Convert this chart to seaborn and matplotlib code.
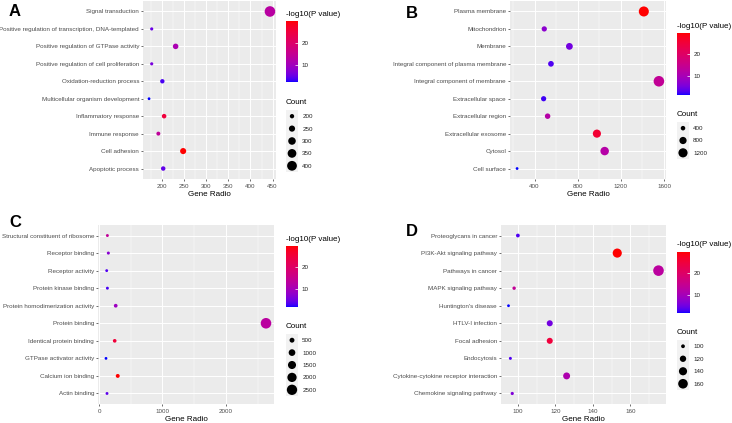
# ---- imports ----
import numpy as np
import pandas as pd
import seaborn as sns
import matplotlib
matplotlib.use("Agg")
import matplotlib.pyplot as plt
from matplotlib.colors import ListedColormap, Normalize
from matplotlib.cm import ScalarMappable
from matplotlib.ticker import MultipleLocator

# ---- data ----
a_terms = ["Signal transduction", "Positive regulation of transcription, DNA-templated",
           "Positive regulation of GTPase activity", "Positive regulation of cell proliferation",
           "Oxidation-reduction process", "Multicellular organism development",
           "Inflammatory response", "Immune response", "Cell adhesion", "Apoptotic process"]
a_count = [444, 177, 231, 177, 201, 171, 205, 192, 248, 203]
a_logp = [13, 5, 11, 6, 3.5, 2.1, 25, 14, 29.8, 4.5]
a_size_ticks = [200, 250, 300, 350, 400]
a_x_ticks = [200, 250, 300, 350, 400, 450]

b_terms = ["Plasma membrane", "Mitochondrion", "Membrane",
           "Integral component of plasma membrane", "Integral component of membrane",
           "Extracellular space", "Extracellular region", "Extracellular exosome",
           "Cytosol", "Cell surface"]
b_count = [1413, 490, 723, 552, 1553, 484, 521, 978, 1050, 238]
b_logp = [29.8, 7, 5, 3, 14, 2.5, 12, 26, 12, 1.4]
b_size_ticks = [400, 800, 1200]
b_x_ticks = [400, 800, 1200, 1600]

c_terms = ["Structural constituent of ribosome", "Receptor binding", "Receptor activity",
           "Protein kinase binding", "Protein homodimerization activity", "Protein binding",
           "Identical protein binding", "GTPase activator activity", "Calcium ion binding",
           "Actin binding"]
c_count = [132, 147, 121, 132, 263, 2632, 247, 110, 295, 126]
c_logp = [14, 7, 3.5, 3, 9, 13, 25, 1.8, 29.5, 4]
c_size_ticks = [500, 1000, 1500, 2000, 2500]
c_x_ticks = [0, 1000, 2000]

d_terms = ["Proteoglycans in cancer", "PI3K-Akt signaling pathway", "Pathways in cancer",
           "MAPK signaling pathway", "Huntington's disease", "HTLV-I infection",
           "Focal adhesion", "Endocytosis", "Cytokine-cytokine receptor interaction",
           "Chemokine signaling pathway"]
d_count = [100, 153, 175, 98, 95, 117, 117, 96, 126, 97]
d_logp = [3, 29.8, 13, 14, 1.4, 5, 25, 3, 11, 6]
d_size_ticks = [100, 120, 140, 160]
d_x_ticks = [100, 120, 140, 160]

cbar_ticks = [10, 20]

W, H = 732, 423
FONT = ["Liberation Sans", "DejaVu Sans"]


# ---- blue -> red gradient in Lab space (like ggplot) ----
M = np.array([[0.4124, 0.3576, 0.1805],
              [0.2126, 0.7152, 0.0722],
              [0.0193, 0.1192, 0.9505]])
WHITE = M @ np.ones(3)


def to_lab(rgb):
    c = np.asarray(rgb, float)
    lin = np.where(c <= 0.04045, c / 12.92, ((c + 0.055) / 1.055) ** 2.4)
    xyz = M @ lin / WHITE
    d = 6 / 29
    f = np.where(xyz > d ** 3, np.cbrt(xyz), xyz / (3 * d * d) + 4 / 29)
    return np.array([116 * f[1] - 16, 500 * (f[0] - f[1]), 200 * (f[1] - f[2])])


def from_lab(lab):
    L, a, b = lab
    d = 6 / 29
    fy = (L + 16) / 116
    f = np.array([fy + a / 500, fy, fy - b / 200])
    xyz = np.where(f > d, f ** 3, 3 * d * d * (f - 4 / 29)) * WHITE
    lin = np.clip(np.linalg.solve(M, xyz), 0, 1)
    c = np.where(lin <= 0.0031308, 12.92 * lin, 1.055 * lin ** (1 / 2.4) - 0.055)
    return np.clip(c, 0, 1)


lab_lo, lab_hi = to_lab([0, 0, 1]), to_lab([1, 0, 0])
cmap = ListedColormap([from_lab(lab_lo + t * (lab_hi - lab_lo)) for t in np.linspace(0, 1, 256)])


def box(x0, y0, x1, y1):
    return [x0 / W, 1 - y1 / H, (x1 - x0) / W, (y1 - y0) / H]


# ---- one panel ----
def draw_panel(fig, letter, terms, count, logp, x_ticks, size_ticks,
               ax_px, letter_xy, cbar_px, size_px):
    df = pd.DataFrame({"term": terms, "count": count, "logp": logp})
    cnorm = (min(logp), max(logp))
    snorm = (min(count), max(count))

    ax = fig.add_axes(box(*ax_px))
    ax.set_facecolor("#EBEBEB")
    sns.scatterplot(data=df, x="count", y="term", hue="logp", size="count",
                    palette=cmap, hue_norm=cnorm, sizes=(4, 58), size_norm=snorm,
                    linewidth=0, legend=False, ax=ax, zorder=3)
    rng = snorm[1] - snorm[0]
    ax.set_xlim(snorm[0] - 0.05 * rng, snorm[1] + 0.05 * rng)
    ax.set_ylim(len(terms) - 0.4, -0.6)
    ax.set_xticks(x_ticks)
    step = x_ticks[1] - x_ticks[0]
    ax.xaxis.set_minor_locator(MultipleLocator(step / 2))
    ax.grid(which="major", color="white", lw=0.7, zorder=0)
    ax.grid(which="minor", axis="x", color="white", lw=0.35, zorder=0)
    ax.set_axisbelow(True)
    for s in ax.spines.values():
        s.set_visible(False)
    ax.tick_params(which="major", length=1.6, width=0.5, color="#333333",
                   labelsize=4.5, labelcolor="#4D4D4D", pad=1.2)
    ax.tick_params(axis="x", which="major", pad=2.2)
    ax.tick_params(which="minor", length=0)
    for t in ax.get_xticklabels() + ax.get_yticklabels():
        t.set_family(FONT)
    ax.set_ylabel("")
    ax.set_xlabel("Gene Radio", fontsize=5.8, family=FONT, labelpad=1.5)

    fig.text(letter_xy[0] / W, 1 - letter_xy[1] / H, letter, fontsize=12,
             fontweight="bold", family=FONT, ha="left", va="center")

    # colour bar
    cx0, cy0, cx1, cy1 = cbar_px
    cax = fig.add_axes(box(*cbar_px))
    cb = fig.colorbar(ScalarMappable(Normalize(*cnorm), cmap), cax=cax, ticks=cbar_ticks)
    cb.outline.set_visible(False)
    cax.tick_params(length=2, width=0.5, color="white", direction="in",
                    labelsize=4.5, labelcolor="#222222", pad=2.5)
    for t in cax.get_yticklabels():
        t.set_family(FONT)
    fig.text(cx0 / W, 1 - (cy0 - 7) / H, "-log10(P value)", fontsize=5.8,
             family=FONT, ha="left", va="center")

    # size legend
    sx0, sy0, sx1, sy1 = size_px
    lax = fig.add_axes(box(*size_px))
    lax.set_facecolor("#F2F2F2")
    leg = pd.DataFrame({"lab": [str(v) for v in size_ticks], "val": size_ticks})
    sns.scatterplot(data=leg, x=[0] * len(size_ticks), y="lab", size="val",
                    sizes=(4, 58), size_norm=snorm, color="black", linewidth=0,
                    legend=False, ax=lax)
    lax.set_xlim(-0.5, 0.5)
    lax.set_ylim(len(size_ticks) - 0.5, -0.5)
    lax.set_xticks([])
    lax.yaxis.tick_right()
    lax.tick_params(length=0, labelsize=4.5, labelcolor="#222222", pad=3)
    for t in lax.get_yticklabels():
        t.set_family(FONT)
    lax.set_xlabel("")
    lax.set_ylabel("")
    for s in lax.spines.values():
        s.set_visible(False)
    fig.text(sx0 / W, 1 - (sy0 - 8) / H, "Count", fontsize=5.8, family=FONT,
             ha="left", va="center")


# ---- figure ----
def main():
    fig = plt.figure(figsize=(W / 100, H / 100), dpi=100)
    fig.patch.set_facecolor("white")

    draw_panel(fig, "A", a_terms, a_count, a_logp, a_x_ticks, a_size_ticks,
               (143, 1, 276, 179), (9, 12), (286, 21, 298, 82), (286, 110, 298, 172))
    draw_panel(fig, "B", b_terms, b_count, b_logp, b_x_ticks, b_size_ticks,
               (510, 1, 666, 179), (406, 13), (677, 33, 690, 95), (677, 122, 689, 159))
    draw_panel(fig, "C", c_terms, c_count, c_logp, c_x_ticks, c_size_ticks,
               (98, 225, 274, 404), (9, 222), (286, 246, 298, 307), (286, 334, 298, 396))
    draw_panel(fig, "D", d_terms, d_count, d_logp, d_x_ticks, d_size_ticks,
               (501, 225, 666, 404), (406, 231), (677, 252, 690, 313), (677, 340, 689, 390))

    fig.savefig("out.png", dpi=100)


if __name__ == "__main__":
    main()
